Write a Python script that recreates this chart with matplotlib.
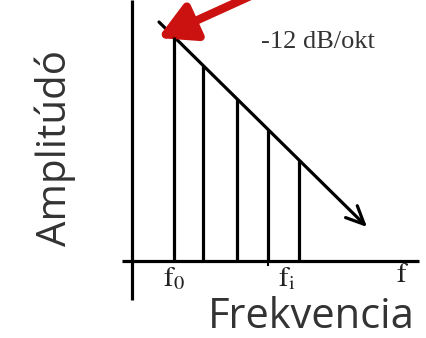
import matplotlib
matplotlib.use("Agg")
import matplotlib.pyplot as plt
from matplotlib.patches import FancyArrowPatch

plt.rcParams["mathtext.fontset"] = "stix"

# Spectrum lines (frequency position, amplitude) measured from the axis origin
freqs = [42, 71, 105, 136, 167]
amps = [224, 195, 162, 131, 101]
slope_start = (27, 239)
slope_end = (235, 34)
slope_label = "-12 dB/okt"
tick_labels = {"f0": (42, r"$\mathrm{f}_0$"), "fi": (155, r"$\mathrm{f}_\mathrm{i}$"), "f": (271, r"$\mathrm{f}$")}
xlabel = "Frekvencia"
ylabel = "Amplitúdó"

fig = plt.figure(figsize=(4.27, 3.38), dpi=100)
ax = fig.add_axes([0, 0, 1, 1])
# origin of the spectrum axes sits at pixel (132, 261)
ax.set_xlim(-132, 295)
ax.set_ylim(-77, 261)
ax.axis("off")

lw = 2.3
# axes
ax.plot([-10, 287], [0, 0], color="black", lw=lw, solid_capstyle="butt")
ax.plot([0, 0], [-39, 261], color="black", lw=lw, solid_capstyle="butt")
ax.plot([136, 136], [-4, 0], color="black", lw=1.5)

# spectral lines
ax.vlines(freqs, 0, amps, color="black", lw=lw)

# -12 dB/oct slope arrow
ax.add_patch(FancyArrowPatch(slope_start, slope_end, arrowstyle="->,head_length=13,head_width=6",
                             color="black", lw=lw, mutation_scale=1, shrinkA=0, shrinkB=0))
# red pointer to the first line
ax.add_patch(FancyArrowPatch((125, 268), (26, 223), arrowstyle="-|>,head_length=22,head_width=12",
                             color="#cc1111", lw=6, mutation_scale=1, shrinkA=0, shrinkB=0))

ax.text(186, 219, slope_label, family="Liberation Serif", fontsize=19, color="#333333",
        ha="center", va="center")

for key, (xpos, lab) in tick_labels.items():
    ybase = -25 if key != "f" else -21
    ax.text(xpos, ybase, lab, fontsize=21, color="#222222", ha="center", va="baseline")

ax.text(179, -56, xlabel, family="Open Sans", fontsize=30, color="#333333",
        ha="center", va="center")
ax.text(-77, 113, ylabel, family="Open Sans", fontsize=29, color="#333333",
        ha="center", va="center", rotation=90)

fig.savefig("out.png", dpi=100, facecolor="white")
